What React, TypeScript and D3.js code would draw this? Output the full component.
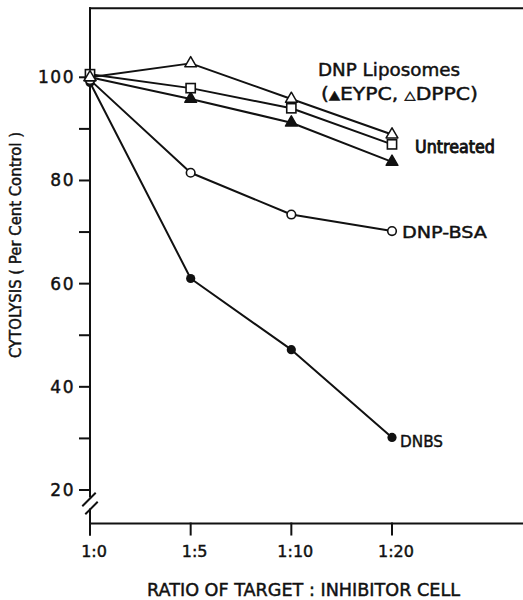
import React from "react";
import * as d3 from "d3";

// Ratio of target : inhibitor cell (x categories)
const ratios = ["1:0", "1:5", "1:10", "1:20"];

// Cytolysis, per cent of control
const dppcLiposomes = [100, 102.7, 95.8, 88.9];
const untreated = [100.6, 97.9, 94.0, 87.0];
const eypcLiposomes = [100, 95.8, 91.2, 83.6];
const dnpBsa = [99.5, 81.5, 73.4, 70.2];
const dnbs = [99, 61.0, 47.2, 30.2];

const yMajorTicks = [20, 40, 60, 80, 100];
const yMinorTicks = [30, 50, 70, 90];

type Marker = "triOpen" | "triFilled" | "square" | "circleOpen" | "circleFilled";

const series: { name: string; values: number[]; marker: Marker }[] = [
  { name: "DNBS", values: dnbs, marker: "circleFilled" },
  { name: "DNP-BSA", values: dnpBsa, marker: "circleOpen" },
  { name: "EYPC", values: eypcLiposomes, marker: "triFilled" },
  { name: "Untreated", values: untreated, marker: "square" },
  { name: "DPPC", values: dppcLiposomes, marker: "triOpen" },
];

const W = 523;
const H = 600;
const INK = "#111";
const FONT = "'DejaVu Sans', 'Liberation Sans', sans-serif";

export default function App() {
  const x = d3.scalePoint<string>().domain(ratios).range([90, 392]);
  const y = d3.scaleLinear().domain([20, 100]).range([490, 77.3]);

  const left = 90;
  const top = y(113.4);
  const bottom = y(13.5);
  const breakTop = bottom - 27;
  const breakBottom = bottom - 14;

  const line = d3
    .line<number>()
    .x((_, i) => x(ratios[i]) as number)
    .y((v) => y(v));

  const marker = (m: Marker, cx: number, cy: number, key: string) => {
    if (m === "circleFilled")
      return <circle key={key} cx={cx} cy={cy} r={4.6} fill={INK} />;
    if (m === "circleOpen")
      return <circle key={key} cx={cx} cy={cy} r={4.3} fill="#fff" stroke={INK} strokeWidth={1.6} />;
    if (m === "square")
      return (
        <rect key={key} x={cx - 4.6} y={cy - 4.6} width={9.2} height={9.2} fill="#fff" stroke={INK} strokeWidth={1.6} />
      );
    const tri = d3.symbol(d3.symbolTriangle, 60)() as string;
    return (
      <path
        key={key}
        d={tri}
        transform={`translate(${cx},${cy})`}
        fill={m === "triFilled" ? INK : "#fff"}
        stroke={INK}
        strokeWidth={1.5}
        strokeLinejoin="round"
      />
    );
  };

  // slightly heavier lettering
  const ink = { stroke: INK, strokeWidth: 0.45 };

  return (
    <svg
      width={W}
      height={H}
      style={{ position: "absolute", left: 0, top: 0, background: "#fff" }}
      fontFamily={FONT}
      fill={INK}
    >
      <rect width={W} height={H} fill="#fff" />

      {/* frame: top rule, y axis with break, x axis */}
      <g stroke={INK} strokeWidth={2} fill="none" strokeLinecap="square">
        <line x1={left} x2={W} y1={top} y2={top} />
        <line x1={left} x2={left} y1={top} y2={breakTop} />
        <line x1={left} x2={left} y1={breakBottom} y2={bottom + 11} />
        <line x1={left - 7} x2={left + 5} y1={breakTop + 9} y2={breakTop - 3} />
        <line x1={left - 4} x2={left + 7} y1={breakBottom + 4} y2={breakBottom - 7} />
        <line x1={left} x2={W - 1} y1={bottom} y2={bottom} />
        {ratios.map((r) => (
          <line key={r} x1={x(r)} x2={x(r)} y1={bottom} y2={bottom + 11} />
        ))}
        {yMajorTicks.concat(yMinorTicks).map((t) => (
          <line key={t} x1={left - 10} x2={left} y1={y(t)} y2={y(t)} />
        ))}
      </g>

      <g {...ink}>
        {/* y tick labels */}
        {yMajorTicks.map((t) => (
          <text key={t} x={75} y={y(t) + 6} textAnchor="end" fontSize={17} letterSpacing={1.5}>
            {t}
          </text>
        ))}

        {/* x tick labels */}
        {ratios.map((r) => (
          <text key={r} x={(x(r) as number) + 4} y={557} textAnchor="middle" fontSize={16}>
            {r}
          </text>
        ))}

        {/* axis titles */}
        <text
          transform="translate(21,245) rotate(-90)"
          textAnchor="middle"
          fontSize={15}
          textLength={226}
          lengthAdjust="spacingAndGlyphs"
        >
          CYTOLYSIS ( Per Cent Control )
        </text>
        <text x={147} y={596} fontSize={17.4} textLength={313} lengthAdjust="spacingAndGlyphs">
          RATIO OF TARGET : INHIBITOR CELL
        </text>
      </g>

      {/* series lines */}
      <g fill="none" stroke={INK} strokeWidth={2} strokeLinejoin="round">
        {series.map((s) => (
          <path key={s.name} d={line(s.values) as string} />
        ))}
      </g>

      {/* markers */}
      {series.map((s) =>
        s.values.map((v, i) => marker(s.marker, x(ratios[i]) as number, y(v), `${s.name}-${i}`))
      )}

      {/* series labels */}
      <g {...ink}>
        <text x={318} y={76} fontSize={17} textLength={142} lengthAdjust="spacingAndGlyphs">
          DNP Liposomes
        </text>
        <text x={321} y={100} fontSize={17} textLength={157} lengthAdjust="spacingAndGlyphs">
          (<tspan fontSize={12} dy={-1.5}>▲</tspan>
          <tspan dy={1.5}>EYPC, </tspan>
          <tspan fontSize={12} dy={-1.5}>△</tspan>
          <tspan dy={1.5}>DPPC)</tspan>
        </text>
        <text x={415} y={153} fontSize={17} strokeWidth={0.9} textLength={80} lengthAdjust="spacingAndGlyphs">
          Untreated
        </text>
        <text x={402} y={238} fontSize={16} textLength={85} lengthAdjust="spacingAndGlyphs">
          DNP-BSA
        </text>
        <text x={400} y={447} fontSize={16} textLength={43} lengthAdjust="spacingAndGlyphs">
          DNBS
        </text>
      </g>
    </svg>
  );
}
